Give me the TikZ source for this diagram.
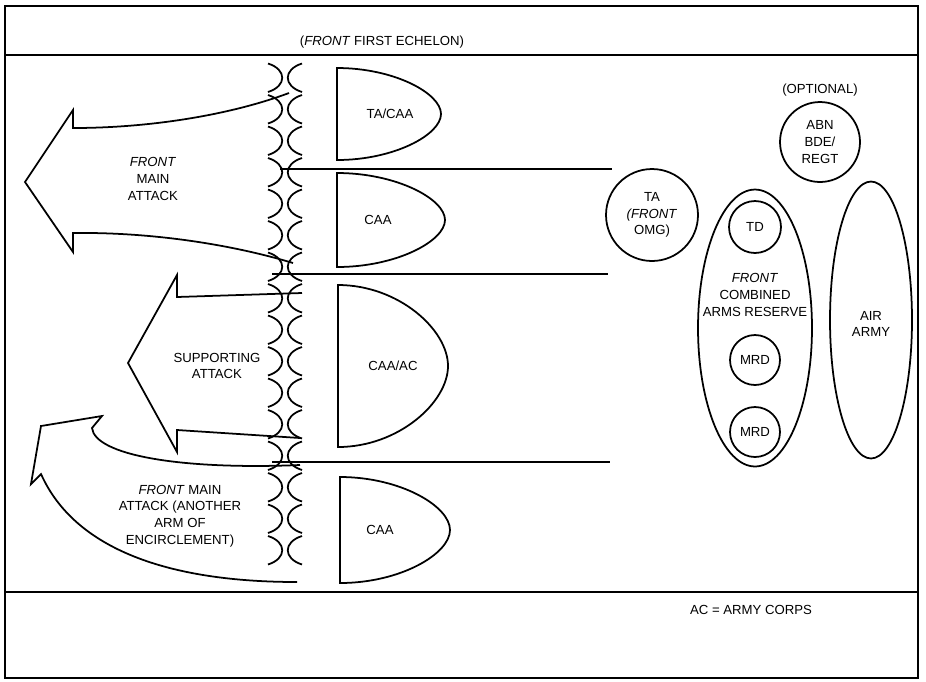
\documentclass[tikz,border=0pt]{standalone}
\usepackage{fontspec}
\setmainfont{Liberation Sans}
\usetikzlibrary{shapes.geometric}

\begin{document}
\begin{tikzpicture}[x=0.02cm,y=-0.02cm,line width=1pt,
  lbl/.style={font=\fontsize{7.5}{9.5}\selectfont,align=center,inner sep=1pt},
  unit/.style={draw,circle,inner sep=0pt,lbl},
  grp/.style={draw,ellipse,inner sep=0pt}]
\useasboundingbox (0,0) rectangle (926,681);
\draw[line width=0.8pt] (5,6) rectangle (918,678) (5,55)--(918,55) (5,592)--(918,592);
\node[lbl] (echelon) at (382,42) {(\textit{FRONT} FIRST ECHELON)};
\node[lbl] (ac) at (751,610) {AC = ARMY CORPS};
% line of contact
\foreach \i in {0,...,15}{
  \pgfmathsetmacro\yy{63.5+31.5*\i}
  \draw (268,\yy) .. controls (287,\yy+6) and (287,\yy+22.5) .. (268,\yy+28.5);
  \draw (302,\yy) .. controls (283,\yy+6) and (283,\yy+22.5) .. (302,\yy+28.5);}
% army sectors
\draw (280,169)--(612,169) (272,274)--(608,274) (272,462)--(610,462);
\foreach \l/\t/\b/\r/\lx/\nm/\lab in {337/68/160/441/390/tacaa/{TA/CAA}, 337/173/267/445/378/caaa/CAA,
    338/285/447/448/393/caaac/{CAA/AC}, 340/477/583/450/380/caab/CAA}{
  \draw (\l,\t) -- (\l,\b) .. controls ({\l+0.55*(\r-\l)},\b) and (\r,{\b-0.276*(\b-\t)}) .. (\r,{(\t+\b)/2})
    .. controls (\r,{\t+0.276*(\b-\t)}) and ({\l+0.55*(\r-\l)},\t) .. cycle;
  \node[lbl] (\nm) at (\lx,{(\t+\b)/2}) {\lab};}
% attacks
\draw (289,93) .. controls (230,115) and (150,128) .. (73,128) -- (73,110) -- (25,182) -- (73,252) -- (73,233)
  .. controls (150,232) and (230,244) .. (293,263);
\node[lbl] (mainatk) at (153,179) {\textit{FRONT}\\MAIN\\ATTACK};
\draw (302,293) -- (177,297) -- (177,275) -- (128,363) -- (177,452) -- (177,430) -- (300,438);
\node[lbl] (suppatk) at (217,366) {SUPPORTING\\ATTACK};
\draw (300,465) .. controls (180,470) and (95,455) .. (92,428) -- (102,416) -- (41,426) -- (31,484) -- (41,474)
  .. controls (75,550) and (170,582) .. (297,582);
\node[lbl] (encatk) at (180,516) {\textit{FRONT} MAIN\\ATTACK (ANOTHER\\ARM OF\\ENCIRCLEMENT)};
% second echelon and reserves
\node[unit,minimum size=1.84cm] (omg) at (652,215) {TA\\\textit{(FRONT}\\OMG)};
\node[unit,minimum size=1.6cm] (abn) at (820,142) {ABN\\BDE/\\REGT};
\node[lbl] (opt) at (820,90) {(OPTIONAL)};
\node[grp,minimum width=2.28cm,minimum height=5.54cm] (reserve) at (755,328) {};
\node[unit,minimum size=1.04cm] (td) at (755,227) {TD};
\node[lbl] (cars) at (755,295) {\textit{FRONT}\\COMBINED\\ARMS RESERVE};
\foreach \y/\nm in {360/mrda,432/mrdb} \node[unit,minimum size=1cm] (\nm) at (755,\y) {MRD};
\node[grp,minimum width=1.64cm,minimum height=5.54cm] (air) at (871,320) {};
\node[lbl] (airlbl) at (871,324) {AIR\\ARMY};
\end{tikzpicture}
\end{document}
